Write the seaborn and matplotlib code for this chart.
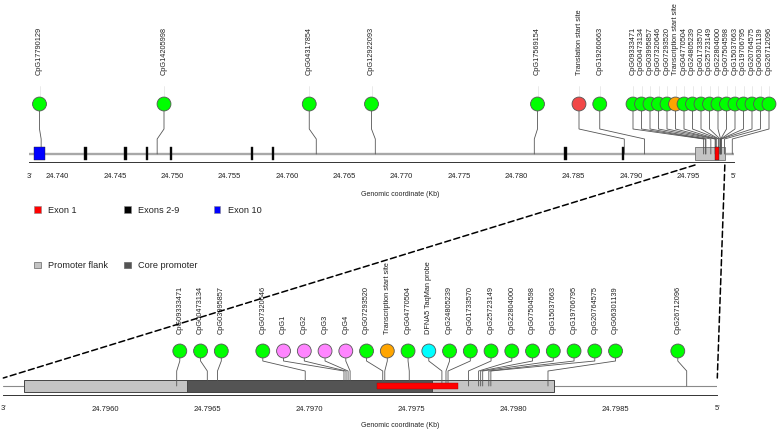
import numpy as np
import pandas as pd
import matplotlib
matplotlib.use("Agg")
import matplotlib.pyplot as plt
from matplotlib.patches import Rectangle, ConnectionPatch
import seaborn as sns

# ------------------------------------------------------------------ data
feature_names = ["CpG17790129", "CpG14205998", "CpG04317854", "CpG12922093",
                 "CpG17569154", "Translation start site", "CpG19260663",
                 "CpG09333471", "CpG00473134", "CpG03995857", "CpG07320646",
                 "CpG1", "CpG2", "CpG3", "CpG4", "CpG07293520",
                 "Transcription start site", "CpG04770504", "DFNA5 TaqMan probe",
                 "CpG24805239", "CpG01733570", "CpG25723149", "CpG22804000",
                 "CpG07504598", "CpG15037663", "CpG19706795", "CpG20764575",
                 "CpG06301139", "CpG26712096"]
feature_pos = [24.73856, 24.74868, 24.76256, 24.76771, 24.78158, 24.78943,
               24.79120, 24.79635, 24.79650, 24.79655, 24.79698, 24.79717,
               24.79718, 24.79719, 24.79720, 24.79736, 24.79737, 24.79749,
               24.79765, 24.79767, 24.79768, 24.79778, 24.79783, 24.79784,
               24.79785, 24.79788, 24.79789, 24.79817, 24.79885]
feature_type = ["CpG", "CpG", "CpG", "CpG", "CpG", "Translation start site",
                "CpG", "CpG", "CpG", "CpG", "CpG",
                "Novel CpG", "Novel CpG", "Novel CpG", "Novel CpG", "CpG",
                "Transcription start site", "CpG", "TaqMan probe",
                "CpG", "CpG", "CpG", "CpG", "CpG", "CpG", "CpG", "CpG",
                "CpG", "CpG"]

exon_group = ["Exon 10"] + ["Exons 2-9"] * 8 + ["Exon 1"]
exon_start = [24.73795, 24.74232, 24.74577, 24.74770, 24.74979, 24.75684,
              24.75866, 24.78416, 24.78920, 24.79733]
exon_end = [24.73888, 24.74254, 24.74601, 24.74792, 24.75001, 24.75706,
            24.75890, 24.78440, 24.78944, 24.79773]

promoter_names = ["Promoter flank", "Core promoter"]
promoter_start = [24.79560, 24.79640]
promoter_end = [24.79820, 24.79760]

overview_range = [24.7375, 24.7990]
zoom_range = [24.7955, 24.7990]
overview_ticks = [24.740, 24.745, 24.750, 24.755, 24.760, 24.765, 24.770,
                  24.775, 24.780, 24.785, 24.790, 24.795]
zoom_ticks = [24.7960, 24.7965, 24.7970, 24.7975, 24.7980, 24.7985]

# ------------------------------------------------------------------ styles
point_palette = {"CpG": "#00FF00", "Translation start site": "#F24848",
                 "Transcription start site": "#FFA500", "Novel CpG": "#FF85FF",
                 "TaqMan probe": "#00FFFF"}
exon_colors = {"Exon 1": "#FF0000", "Exons 2-9": "#000000", "Exon 10": "#0000FF"}
promoter_colors = {"Promoter flank": "#C4C4C4", "Core promoter": "#545454"}

W, H = 778, 431
sns.set_style("white")
plt.rcParams["font.family"] = ["Liberation Sans", "DejaVu Sans"]

fig = plt.figure(figsize=(W / 100, H / 100), dpi=100)
ax0 = fig.add_axes([0, 0, 1, 1])
ax0.set_xlim(0, W)
ax0.set_ylim(H, 0)
ax0.axis("off")

features = pd.DataFrame({"name": feature_names, "pos": feature_pos,
                         "type": feature_type})
exons = pd.DataFrame({"group": exon_group, "start": exon_start, "end": exon_end})


def iso_median(z):
    blocks = []
    for v in z:
        blocks.append([v])
        while len(blocks) > 1 and np.median(blocks[-2]) > np.median(blocks[-1]):
            last = blocks.pop()
            blocks[-1].extend(last)
    return np.concatenate([[np.median(b)] * len(b) for b in blocks])


def lollipop_layout(px, origin, step, right, dense_gap):
    """Spread lollipop heads on a slot grid, compressing a crowded tail."""
    p = (np.asarray(px, float) - origin) / step
    n = len(p)
    rmax = (right - origin) / step
    gaps = np.ones(n - 1)
    dense = np.zeros(n, bool)
    fw = p.copy()
    for i in range(1, n):
        fw[i] = max(fw[i], fw[i - 1] + 1)
    if fw[-1] > rmax:
        j = n - 1
        while j > 0 and p[j] - p[j - 1] < 1:
            j -= 1
        dense[j:] = True
        gaps[j:] = dense_gap / step
    c = np.concatenate([[0], np.cumsum(gaps)])
    zh = iso_median(p - c)
    zh = np.clip(zh, 0, rmax - c[-1])
    x = zh + c
    x[~dense] = np.round(x[~dense])
    for i in range(n - 2, -1, -1):
        lim = x[i + 1] - gaps[i]
        if x[i] > lim + 1e-9:
            x[i] = lim if dense[i] else np.floor(lim + 1e-9)
    return origin + x * step


def make_axis(left_px, width_px, xlim, ticks, fmt, axis_y):
    ax = fig.add_axes([left_px / W, 0, width_px / W, 1])
    ax.patch.set_visible(False)
    ax.set_xlim(*xlim)
    ax.set_ylim(H, 0)
    for s in ["top", "left", "right"]:
        ax.spines[s].set_visible(False)
    ax.spines["bottom"].set_position(("data", axis_y))
    ax.spines["bottom"].set_color("#333333")
    ax.spines["bottom"].set_linewidth(0.7)
    ax.set_yticks([])
    ax.set_xticks(ticks)
    ax.set_xticklabels([fmt.format(t) for t in ticks])
    ax.tick_params(axis="x", length=3.3, width=0.6, pad=3.6, labelsize=5.5,
                   color="#333333", labelcolor="#222222", direction="out")
    return ax


def draw_lollipops(ax, df, left_px, width_px, xlim, ys):
    x0, x1 = xlim
    px = left_px + (df["pos"].values - x0) / (x1 - x0) * width_px
    disp = lollipop_layout(px, left_px + 10.5, 20.75, W - 9, 8.5)
    df = df.assign(xd=x0 + (disp - left_px) / width_px * (x1 - x0),
                   yc=ys["circle"])
    for xd, xa in zip(df["xd"], df["pos"]):
        ax.plot([xd, xd, xa, xa],
                [ys["circle"] + 7, ys["bend1"], ys["bend2"], ys["gene"]],
                color="#555555", lw=0.6, zorder=3, clip_on=False)
        ax.plot([xd, xd], [ys["label"] + 12, ys["circle"] - 8],
                color="#e2e2e2", lw=0.5, zorder=1, clip_on=False)
    sns.scatterplot(data=df, x="xd", y="yc", hue="type", palette=point_palette,
                    s=100, edgecolor="#555555", linewidth=0.6, legend=False,
                    ax=ax, zorder=5, clip_on=False)
    for name, xd in zip(df["name"], df["xd"]):
        ax.text(xd, ys["label"], name, rotation=90, ha="center", va="bottom",
                fontsize=5.3, color="#222222", clip_on=False)
    ax.set_xlabel("")
    ax.set_ylabel("")
    ax.set_xlim(*xlim)
    ax.set_ylim(H, 0)


# ------------------------------------------------------------------ overview
top_left, top_w = 29.0, 705.0
ax1 = make_axis(top_left, top_w, overview_range, overview_ticks, "{:.3f}", 163)
ax1.plot(overview_range, [155, 155], color="#a8a8a8", lw=1.7, zorder=1,
         solid_capstyle="butt")
ax1.add_patch(Rectangle((promoter_start[0], 147.5),
                        promoter_end[0] - promoter_start[0], 13.5,
                        facecolor=promoter_colors["Promoter flank"],
                        edgecolor="#707070", lw=0.6, zorder=2))
for _, e in exons.iterrows():
    ax1.add_patch(Rectangle((e["start"], 148), e["end"] - e["start"], 13,
                            facecolor=exon_colors[e["group"]],
                            edgecolor="#222222", lw=0.3, zorder=4))
top_df = features[features["type"].isin(
    ["CpG", "Translation start site", "Transcription start site"])]
draw_lollipops(ax1, top_df, top_left, top_w, overview_range,
               {"label": 75, "circle": 105, "bend1": 130, "bend2": 140,
                "gene": 155})

# ------------------------------------------------------------------ zoom
low_left, low_w = 3.3, 714.0
ax2 = make_axis(low_left, low_w, zoom_range, zoom_ticks, "{:.4f}", 396)
ax2.plot(zoom_range, [387, 387], color="#8a8a8a", lw=0.8, zorder=1)
for name, s0, s1 in zip(promoter_names, promoter_start, promoter_end):
    ax2.add_patch(Rectangle((s0, 381), s1 - s0, 12.3,
                            facecolor=promoter_colors[name],
                            edgecolor="#444444", lw=0.7, zorder=2))
for _, e in exons.iterrows():
    if e["end"] > zoom_range[0]:
        ax2.add_patch(Rectangle((e["start"], 384.3), e["end"] - e["start"], 5.3,
                                facecolor=exon_colors[e["group"]],
                                edgecolor="#aa0000", lw=0.3, zorder=4))
low_df = features[features["pos"] >= zoom_range[0]]
draw_lollipops(ax2, low_df, low_left, low_w, zoom_range,
               {"label": 334, "circle": 352, "bend1": 362, "bend2": 372,
                "gene": 387})

# end labels and axis titles
for ax, rng, y in [(ax1, overview_range, 177), (ax2, zoom_range, 409)]:
    ax.text(rng[0], y, "3'", ha="center", va="center", fontsize=5.5,
            color="#222222", clip_on=False)
    ax.text(rng[1], y, "5'", ha="center", va="center", fontsize=5.5,
            color="#222222", clip_on=False)
ax0.text(400, 195, "Genomic coordinate (Kb)", ha="center", va="center",
         fontsize=5, color="#222222")
ax0.text(400, 426, "Genomic coordinate (Kb)", ha="center", va="center",
         fontsize=5, color="#222222")

# zoom connector lines
for xa, xb in [(promoter_start[0], zoom_range[0]), (promoter_end[0], zoom_range[1])]:
    con = ConnectionPatch(xyA=(xa, 166), coordsA=ax1.transData,
                          xyB=(xb, 379), coordsB=ax2.transData,
                          linestyle=(0, (4, 2.2)), color="black", lw=1.1)
    fig.add_artist(con)

# legends
leg1 = [("Exon 1", exon_colors["Exon 1"], 34), ("Exons 2-9", exon_colors["Exons 2-9"], 124),
        ("Exon 10", exon_colors["Exon 10"], 213.7)]
for label, col, x in leg1:
    ax0.add_patch(Rectangle((x, 207.3), 6.8, 6.8, facecolor=col,
                            edgecolor="#888888", lw=0.4))
    ax0.text(x + 14, 211, label, ha="left", va="center", fontsize=6.6,
             color="#222222")
leg2 = [("Promoter flank", promoter_colors["Promoter flank"], 34),
        ("Core promoter", promoter_colors["Core promoter"], 124)]
for label, col, x in leg2:
    ax0.add_patch(Rectangle((x, 262.6), 6.8, 6.8, facecolor=col,
                            edgecolor="#666666", lw=0.5))
    ax0.text(x + 14, 266, label, ha="left", va="center", fontsize=6.6,
             color="#222222")

fig.savefig("out.png", dpi=100)
